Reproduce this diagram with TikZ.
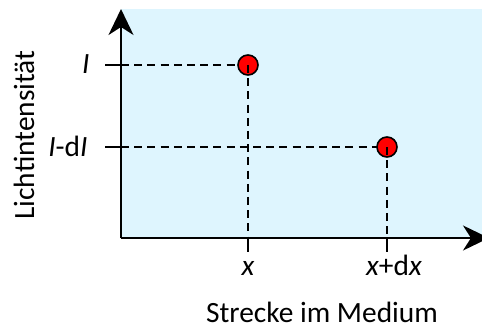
\documentclass[tikz,border=0pt]{standalone}
\usepackage{fontspec}
\setmainfont{Carlito}
\usetikzlibrary{arrows.meta,positioning}
\definecolor{mediumblue}{RGB}{222,245,254}
\definecolor{dotred}{RGB}{255,0,0}

\begin{document}
\begin{tikzpicture}[x=0.5pt,y=0.5pt,
  axis/.style={line width=1pt, -{Stealth[length=13pt,width=12.5pt,inset=4pt]}},
  guide/.style={line width=0.8pt, dash pattern=on 4pt off 2.6pt},
  tickline/.style={line width=0.8pt},
  point/.style={circle, fill=dotred, draw=black, line width=0.8pt, minimum size=10pt, inner sep=0pt},
  lbl/.style={font=\fontsize{14.7}{17}\selectfont, inner sep=0pt}]
\useasboundingbox (0,0) rectangle (482,327);
% Medium
\fill[mediumblue] (121,89) rectangle (482,318);

% Axes
\coordinate (O) at (121,89);
\coordinate (ytop) at (121,318);
\coordinate (xend) at (489,89);
\draw[axis] (O) -- (ytop);
\draw[axis] (O) -- (xend);

% Levels and positions
\coordinate (yI) at (121,262);
\coordinate (ydI) at (121,180);
\coordinate (tI) at (105,262);
\coordinate (tdI) at (105,180);
\coordinate (xa) at (248,89);
\coordinate (xb) at (387,89);
\coordinate (ta) at (248,75);
\coordinate (tb) at (387,75);

\draw[tickline] (tI) -- (yI);
\draw[tickline] (tdI) -- (ydI);
\draw[tickline] (xa) -- (ta);
\draw[tickline] (xb) -- (tb);

\draw[guide] (yI) -- (248,262);
\draw[guide] (ydI) -- (387,180);

% Points
\node[point] (p1) at (248,262) {};
\node[point] (p2) at (387,180) {};
\draw[guide] (p1.center) -- (xa);
\draw[guide] (p2.center) -- (xb);

% Labels
\node[lbl, anchor=base east] (lI) at (90,253) {\textit{I}};
\node[lbl, anchor=base east] (ldI) at (88,170) {\textit{I}-d\textit{I}};
\node[lbl, anchor=base] (lx) at (248,52) {\textit{x}};
\node[lbl, anchor=base] (ldx) at (394,52) {\textit{x}+d\textit{x}};
\node[lbl, anchor=base] (xlabel) at (322,5) {Strecke im Medium};
\node[lbl, anchor=base, rotate=90] (ylabel) at (34,192) {Lichtintensität};
\end{tikzpicture}
\end{document}
